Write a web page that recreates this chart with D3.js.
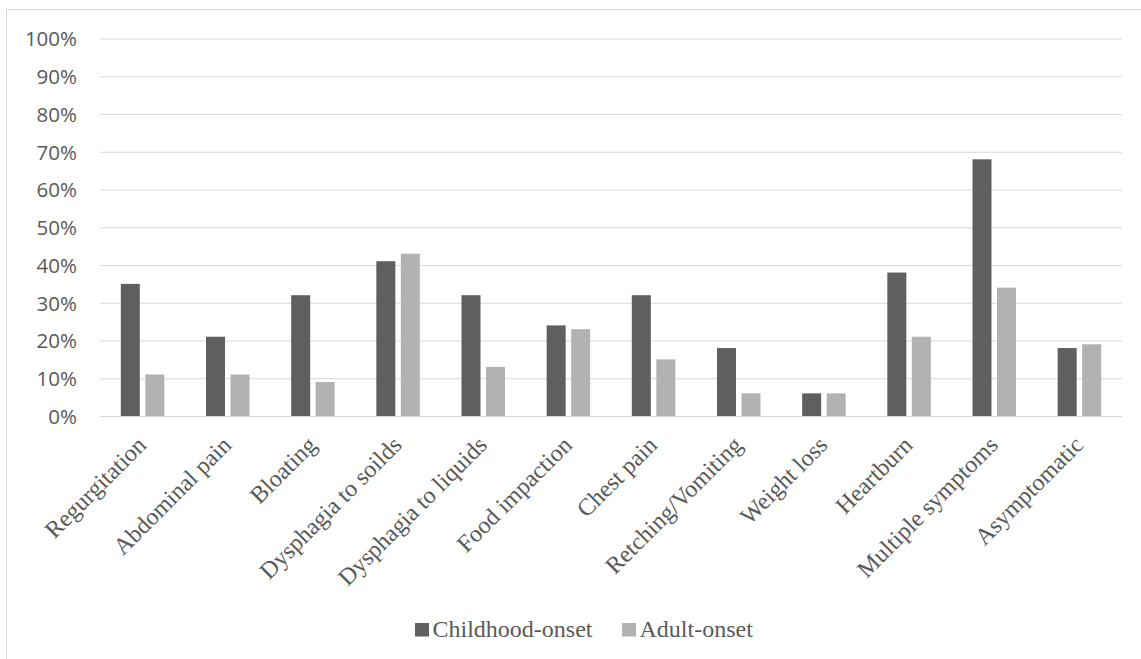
<!DOCTYPE html>
<html>
<head>
<meta charset="utf-8">
<script src="https://cdn.jsdelivr.net/npm/d3@7"></script>
<style>
  html, body { margin: 0; padding: 0; background: #ffffff; }
  svg { display: block; }
</style>
</head>
<body>
<svg id="chart" width="1141" height="659"></svg>
<script>
// Symptom categories shown along the x axis
const categories = [
  "Regurgitation", "Abdominal pain", "Bloating", "Dysphagia to soilds",
  "Dysphagia to liquids", "Food impaction", "Chest pain", "Retching/Vomiting",
  "Weight loss", "Heartburn", "Multiple symptoms", "Asymptomatic"
];

// Share of patients (%) per onset group
const seriesNames = ["Childhood-onset", "Adult-onset"];
const childhoodOnset = [35, 21, 32, 41, 32, 24, 32, 18, 6, 38, 68, 18];
const adultOnset     = [11, 11,  9, 43, 13, 23, 15,  6, 6, 21, 34, 19];

// Percentage ticks on the y axis
const yTicks = [0, 10, 20, 30, 40, 50, 60, 70, 80, 90, 100];

const seriesColors = { "Childhood-onset": "#5f5f5f", "Adult-onset": "#b2b2b2" };
const gridColor = "#d9d9d9";
const textColor = "#595959";

const svg = d3.select("#chart");

// Outer chart frame
svg.append("path")
  .attr("d", "M6.5,659 L6.5,9.5 L1141,9.5")
  .attr("fill", "none")
  .attr("stroke", gridColor)
  .attr("stroke-width", 1.2);

const plot = { left: 100, right: 1122, top: 38.5, bottom: 416 };

const x0 = d3.scaleBand()
  .domain(categories)
  .range([plot.left, plot.right])
  .padding(0);

const x1 = d3.scaleBand()
  .domain(seriesNames)
  .range([0, x0.bandwidth()])
  .paddingInner(0.2245)
  .paddingOuter(0.85);

const y = d3.scaleLinear()
  .domain([0, 100])
  .range([plot.bottom, plot.top]);

// Horizontal gridlines with percentage labels
const yAxis = d3.axisLeft(y)
  .tickValues(yTicks)
  .tickSize(-(plot.right - plot.left))
  .tickPadding(23)
  .tickFormat(d => d + "%");

const yG = svg.append("g")
  .attr("transform", `translate(${plot.left},0)`)
  .call(yAxis);
yG.select(".domain").remove();
yG.selectAll(".tick line")
  .attr("stroke", gridColor)
  .attr("stroke-width", 1.2);
yG.selectAll(".tick text")
  .attr("fill", textColor)
  .attr("font-family", "'Open Sans', sans-serif")
  .attr("font-size", "20.5px")
  .attr("dy", "0.36em");

// Bars
const rows = categories.map((c, i) => ({
  category: c,
  values: [
    { series: "Childhood-onset", value: childhoodOnset[i] },
    { series: "Adult-onset", value: adultOnset[i] }
  ]
}));

const groups = svg.append("g")
  .selectAll("g")
  .data(rows)
  .join("g")
  .attr("transform", d => `translate(${x0(d.category)},0)`);

groups.selectAll("rect")
  .data(d => d.values)
  .join("rect")
  .attr("x", d => x1(d.series))
  .attr("width", x1.bandwidth())
  .attr("y", d => y(d.value))
  .attr("height", d => y(0) - y(d.value))
  .attr("fill", d => seriesColors[d.series]);

// Rotated category labels
const xAxis = d3.axisBottom(x0).tickSize(0).tickPadding(0);
const xG = svg.append("g")
  .attr("transform", `translate(0,${plot.bottom})`)
  .call(xAxis);
xG.select(".domain").remove();
xG.selectAll(".tick text")
  .attr("fill", textColor)
  .attr("font-family", "'Liberation Serif', 'Times New Roman', serif")
  .attr("font-size", "24px")
  .attr("text-anchor", "end")
  .attr("dy", null)
  .attr("y", 0)
  .attr("transform", "translate(5,30.5) rotate(-45)");

// Legend
const legendItems = [
  { name: "Childhood-onset", x: 415 },
  { name: "Adult-onset", x: 622 }
];
const legend = svg.append("g");
const item = legend.selectAll("g")
  .data(legendItems)
  .join("g")
  .attr("transform", d => `translate(${d.x},0)`);
item.append("rect")
  .attr("x", 0)
  .attr("y", 623)
  .attr("width", 14)
  .attr("height", 13.5)
  .attr("fill", d => seriesColors[d.name]);
item.append("text")
  .attr("x", 17.5)
  .attr("y", 637)
  .attr("fill", textColor)
  .attr("font-family", "'Liberation Serif', 'Times New Roman', serif")
  .attr("font-size", "24px")
  .text(d => d.name);
</script>
</body>
</html>
